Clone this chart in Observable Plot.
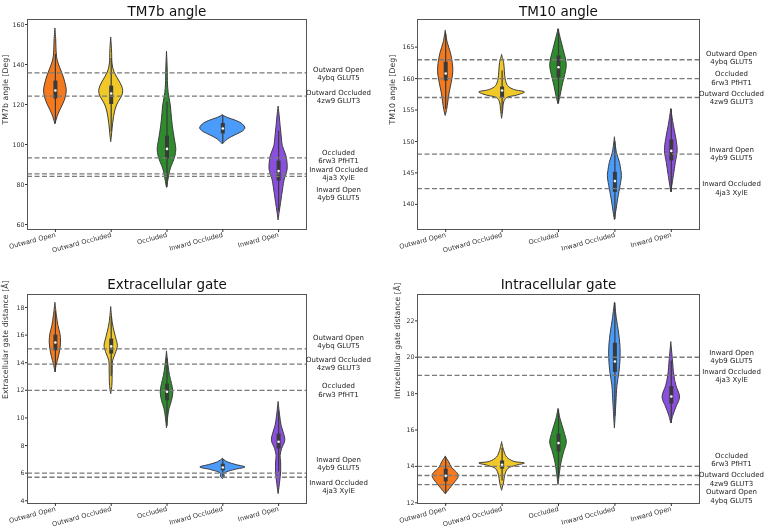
<!DOCTYPE html>
<html><head><meta charset="utf-8">
<script src="https://cdn.jsdelivr.net/npm/d3@7"></script>
<script src="https://cdn.jsdelivr.net/npm/@observablehq/plot@0.6"></script>
<style>
body{margin:0;background:#fff;}
#wrap{position:relative;width:764px;height:527px;font-family:"DejaVu Sans",sans-serif;will-change:transform;}
#wrap > div{position:absolute;}
</style></head><body><div id="wrap"></div>
<script>
const categories = ["Outward Open","Outward Occluded","Occluded","Inward Occluded","Inward Open"];
const violinColors = ["#f57a1e","#f0c929","#2e8b2e","#4a9bfa","#8a4fdc"];

// ---------- TM7b angle ----------
const tm7bProfiles = [
  [[157.8,0],[152,0.015],[146,0.022],[142,0.04],[138,0.09],[134,0.145],[130,0.185],[127,0.203],[124,0.19],[121,0.155],[118,0.105],[115,0.055],[112.5,0.025],[110,0]],
  [[153.3,0],[147,0.015],[140,0.025],[136,0.06],[132,0.14],[129,0.195],[126.7,0.215],[124,0.195],[121,0.13],[118,0.085],[115,0.06],[112.5,0.045],[108,0.025],[104,0.012],[101.2,0]],
  [[146.3,0],[138,0.012],[130,0.018],[125.8,0.03],[119,0.07],[112.5,0.09],[106,0.12],[101,0.15],[97.5,0.167],[94,0.15],[90.8,0.11],[88,0.07],[85.8,0.05],[82.5,0.027],[80,0.012],[78.3,0]],
  [[114.5,0],[113.3,0.09],[111.7,0.25],[110,0.36],[108,0.405],[106.5,0.36],[105.3,0.28],[103.8,0.17],[102.5,0.09],[101.2,0.04],[100,0]],
  [[118.8,0],[114,0.02],[109.2,0.036],[104,0.055],[99.2,0.075],[94.2,0.14],[90.5,0.16],[87.5,0.162],[85,0.14],[82.5,0.11],[77.5,0.08],[70.8,0.045],[65.8,0.018],[62,0]]
];
const tm7bQ1 = [122.8,120,92.8,105.3,81.7];
const tm7bQ3 = [131.7,129.2,104.2,110.5,91.7];
const tm7bMedian = [127,125.5,97.8,108,86.7];
const tm7bWhiskerLow = [110.5,106.2,78.5,100.5,66.7];
const tm7bWhiskerHigh = [145,143,121.3,114,106.7];
const tm7bRefValues = [135.8,124.2,93.3,85.3,84.1];
const tm7bRefLabels = ["Outward Open\n4ybq GLUT5","Outward Occluded\n4zw9 GLUT3","Occluded\n6rw3 PfHT1","Inward Occluded\n4ja3 XylE","Inward Open\n4yb9 GLUT5"];
const tm7bRefLabelY = [135.75,124.25,94.25,85.5,75.5];
const tm7bTicks = [60,80,100,120,140,160];

// ---------- TM10 angle ----------
const tm10Profiles = [
  [[167.55,0],[165.7,0.036],[164.1,0.09],[162.5,0.125],[161,0.135],[159.35,0.107],[157.8,0.072],[156.2,0.045],[155.1,0.027],[154.06,0]],
  [[163.7,0],[162.5,0.036],[161,0.05],[159.9,0.063],[158.8,0.107],[158.2,0.215],[157.8,0.405],[157.3,0.27],[156.9,0.09],[156.2,0.036],[155.1,0.021],[153.6,0]],
  [[167.8,0],[166.2,0.045],[164.6,0.09],[163.2,0.13],[162,0.147],[161,0.13],[160.1,0.107],[158.8,0.072],[157.2,0.036],[155.9,0]],
  [[150.6,0],[148.2,0.036],[146.6,0.09],[145.3,0.115],[144.5,0.125],[143.4,0.11],[142.4,0.09],[140.6,0.054],[139,0.027],[137.5,0]],
  [[155.1,0],[152.5,0.045],[150.4,0.09],[148.5,0.113],[146.6,0.08],[144.5,0.045],[141.9,0]]
];
const tm10Q1 = [159.6,156.97,160.1,141.9,146.9];
const tm10Q3 = [162.6,158.66,163.6,145.1,150.25];
const tm10Median = [160.8,158.1,161.8,143.7,148.5];
const tm10WhiskerLow = [155.1,154.4,156,137.6,141.9];
const tm10WhiskerHigh = [167.1,161.2,167.8,149.9,155.1];
const tm10RefValues = [163,160,157,148,142.5];
const tm10RefLabels = ["Outward Open\n4ybq GLUT5","Occluded\n6rw3 PfHT1","Outward Occluded\n4zw9 GLUT3","Inward Open\n4yb9 GLUT5","Inward Occluded\n4ja3 XylE"];
const tm10RefLabelY = [163.4,160.1,157.05,148.1,142.65];
const tm10Ticks = [140,145,150,155,160,165];

// ---------- Extracellular gate ----------
const extraProfiles = [
  [[18.31,0],[17.4,0.027],[16.67,0.054],[16.07,0.09],[15.46,0.102],[14.74,0.08],[14.14,0.045],[13.78,0.021],[13.29,0]],
  [[18.0,0],[16.9,0.027],[16.19,0.063],[15.6,0.1],[15.2,0.12],[14.62,0.08],[14.14,0.036],[13.29,0.027],[12.33,0.021],[11.72,0]],
  [[14.79,0],[13.78,0.027],[13.05,0.054],[12.45,0.09],[11.85,0.113],[11.24,0.09],[10.64,0.045],[10.04,0.021],[9.24,0]],
  [[7.02,0],[6.78,0.09],[6.58,0.25],[6.41,0.405],[6.24,0.23],[6.05,0.072],[5.91,0.027],[5.76,0.036],[5.57,0]],
  [[11.12,0],[10.16,0.027],[9.43,0.054],[8.95,0.09],[8.35,0.12],[7.74,0.063],[7.26,0.036],[6.78,0.045],[6.05,0.045],[5.33,0.027],[4.48,0]]
];
const extraQ1 = [14.86,14.62,11.24,6.17,7.74];
const extraQ3 = [16.0,15.71,12.45,6.65,8.83];
const extraMedian = [15.46,15.18,11.89,6.41,8.27];
const extraWhiskerLow = [13.3,13.0,9.4,5.6,6.1];
const extraWhiskerHigh = [17.7,17.35,14.3,7.0,10.5];
const extraRefValues = [15,13.9,12,6,5.7];
const extraRefLabels = ["Outward Open\n4ybq GLUT5","Outward Occluded\n4zw9 GLUT3","Occluded\n6rw3 PfHT1","Inward Open\n4yb9 GLUT5","Inward Occluded\n4ja3 XylE"];
const extraRefLabelY = [15.54,13.96,12.04,6.7,5.06];
const extraTicks = [4,6,8,10,12,14,16,18];

// ---------- Intracellular gate ----------
const intraProfiles = [
  [[14.52,0],[14.22,0.063],[13.94,0.107],[13.48,0.233],[13.02,0.143],[12.75,0.072],[12.47,0]],
  [[15.31,0],[14.86,0.036],[14.49,0.09],[14.25,0.215],[14.16,0.405],[14.03,0.25],[13.85,0.107],[13.48,0.054],[13.12,0.036],[12.66,0]],
  [[17.14,0],[16.6,0.036],[16.23,0.072],[15.77,0.116],[15.31,0.147],[14.76,0.098],[14.21,0.054],[13.66,0.027],[12.97,0]],
  [[22.97,0],[22.09,0.036],[21.36,0.072],[20.63,0.098],[19.89,0.1],[19.16,0.08],[18.43,0.045],[17.51,0.027],[16.08,0]],
  [[20.81,0],[19.89,0.027],[18.98,0.054],[18.43,0.09],[17.79,0.155],[17.24,0.09],[16.78,0.036],[16.36,0]]
];
const intraQ1 = [13.15,13.85,14.8,19.16,17.42];
const intraQ3 = [13.85,14.3,15.77,20.77,18.39];
const intraMedian = [13.48,14.09,15.28,19.77,17.84];
const intraWhiskerLow = [12.5,13.2,13.35,16.75,16.36];
const intraWhiskerHigh = [14.5,15.0,17.1,22.97,19.8];
const intraRefValues = [20,19,14,13.5,13];
const intraRefLabels = ["Inward Open\n4yb9 GLUT5","Inward Occluded\n4ja3 XylE","Occluded\n6rw3 PfHT1","Outward Occluded\n4zw9 GLUT3","Outward Open\n4ybq GLUT5"];
const intraRefLabelY = [20.05,19.0,14.38,13.32,12.39];
const intraTicks = [12,14,16,18,20,22];

const panels = [
  {title:"TM7b angle", ylabel:"TM7b angle [Deg]", profiles:tm7bProfiles, q1:tm7bQ1, q3:tm7bQ3, med:tm7bMedian, wlo:tm7bWhiskerLow, whi:tm7bWhiskerHigh, refs:tm7bRefValues, labels:tm7bRefLabels, labelY:tm7bRefLabelY, ticks:tm7bTicks,
   domain:[57.5,162.5], left:0, top:0, w:382, h:263, m:[19,76,34,27], ylDx:-22, titleDy:-12.6},
  {title:"TM10 angle", ylabel:"TM10 angle [Deg]", profiles:tm10Profiles, q1:tm10Q1, q3:tm10Q3, med:tm10Median, wlo:tm10WhiskerLow, whi:tm10WhiskerHigh, refs:tm10RefValues, labels:tm10RefLabels, labelY:tm10RefLabelY, ticks:tm10Ticks,
   domain:[136.0,169.4], left:382, top:0, w:382, h:263, m:[19,65,34,35], ylDx:-25, titleDy:-12.6},
  {title:"Extracellular gate", ylabel:"Extracellular gate distance [Å]", profiles:extraProfiles, q1:extraQ1, q3:extraQ3, med:extraMedian, wlo:extraWhiskerLow, whi:extraWhiskerHigh, refs:extraRefValues, labels:extraRefLabels, labelY:extraRefLabelY, ticks:extraTicks,
   domain:[3.8,18.94], left:0, top:263, w:382, h:264, m:[31,76,24,27], ylDx:-22, titleDy:-15.3},
  {title:"Intracellular gate", ylabel:"Intracellular gate distance [Å]", profiles:intraProfiles, q1:intraQ1, q3:intraQ3, med:intraMedian, wlo:intraWhiskerLow, whi:intraWhiskerHigh, refs:intraRefValues, labels:intraRefLabels, labelY:intraRefLabelY, ticks:intraTicks,
   domain:[11.96,23.45], left:382, top:263, w:382, h:264, m:[31,65,24,35], ylDx:-20, titleDy:-15.3}
];

function build(p){
  const rows = [];
  p.profiles.forEach((prof, i) => prof.forEach(([v, w]) => rows.push({i, cat: categories[i], v, w})));
  const stats = categories.map((c, i) => ({i, cat: c, q1: p.q1[i], q3: p.q3[i], med: p.med[i], lo: p.wlo[i], hi: p.whi[i]}));
  const ann = p.labels.map((t, k) => ({t, y: p.labelY[k]}));
  const ink = "#333";
  return Plot.plot({
    width: p.w, height: p.h,
    marginTop: p.m[0], marginRight: p.m[1], marginBottom: p.m[2], marginLeft: p.m[3],
    style: {fontFamily: "DejaVu Sans, sans-serif", background: "white", color: ink, overflow: "visible"},
    x: {domain: [-0.5, 4.5]},
    y: {domain: p.domain},
    color: {type: "ordinal", domain: categories, range: violinColors},
    marks: [
      Plot.areaX(rows, {y: "v", x1: d => d.i - d.w, x2: d => d.i + d.w, z: "cat", fill: "cat", stroke: "#3d3d3d", strokeWidth: 1, curve: "catmull-rom"}),
      Plot.ruleX(stats, {x: "i", y1: "lo", y2: "hi", stroke: "#3a3a3a", strokeWidth: 1.2}),
      Plot.ruleX(stats, {x: "i", y1: "q1", y2: "q3", stroke: "#3a3a3a", strokeWidth: 4}),
      Plot.dot(stats, {x: "i", y: "med", r: 1.3, fill: "white", stroke: null}),
      Plot.ruleY(p.refs, {stroke: "#7a7a7a", strokeWidth: 1.35, strokeDasharray: "5,2.5"}),
      Plot.frame({stroke: "#555", strokeWidth: 1}),
      Plot.axisX({ticks: [0,1,2,3,4], tickFormat: i => categories[i], tickRotate: -15, tickSize: 3, tickPadding: 2, fontSize: 6.6, label: null, fill: "#333", stroke: "#333"}),
      Plot.axisY({ticks: p.ticks, tickSize: 2, tickPadding: 1, fontSize: 6.3, label: null, fill: "#333"}),
      Plot.text([p.ylabel], {text: d => d, frameAnchor: "left", rotate: -90, dx: p.ylDx, fontSize: 7.8, fill: ink}),
      Plot.text([p.title], {text: d => d, frameAnchor: "top", dy: p.titleDy, fontSize: 13.5, fill: "#111"}),
      Plot.text(ann, {y: "y", text: "t", frameAnchor: "right", dx: 32, textAnchor: "middle", lineAnchor: "middle", fontSize: 7, lineHeight: 1.2, fill: "#222"})
    ]
  });
}

const wrap = document.getElementById("wrap");
for (const p of panels){
  const div = document.createElement("div");
  div.style.left = p.left + "px";
  div.style.top = p.top + "px";
  div.appendChild(build(p));
  wrap.appendChild(div);
}
</script>
</body></html>
